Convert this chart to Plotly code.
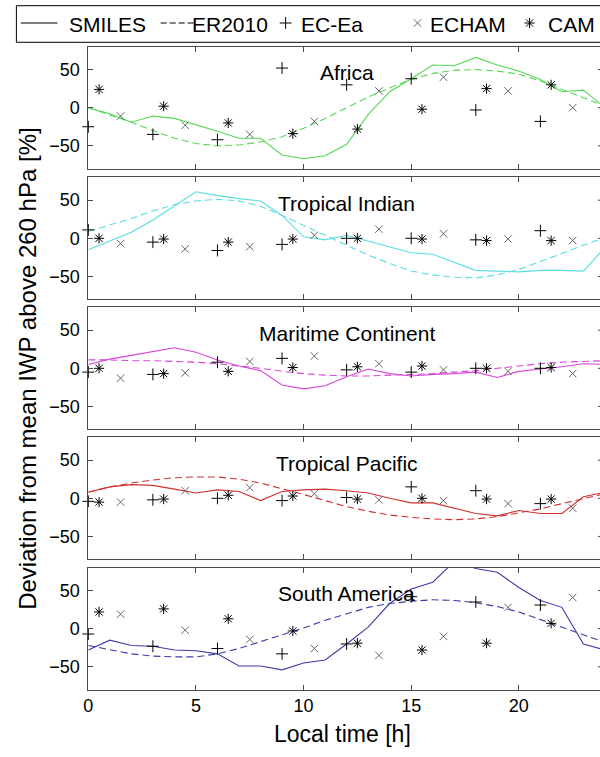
import plotly.graph_objects as go

# ---------------------------------------------------------------- data
hours = list(range(25))
ec_hours = [0, 3, 6, 9, 12, 15, 18, 21]
echam_hours = [1.5, 4.5, 7.5, 10.5, 13.5, 16.5, 19.5, 22.5]
cam_hours = [0.5, 3.5, 6.5, 9.5, 12.5, 15.5, 18.5, 21.5]

regions = ["Africa", "Tropical Indian", "Maritime Continent",
           "Tropical Pacific", "South America"]
region_colors = ["#55d855", "#5adde2", "#d846d8", "#d03030", "#3c3ca8"]

smiles_africa = [0, -8, -19, -11, -14, -22, -31, -40, -40, -62, -67, -63, -48,
                 -9, 21, 38, 56, 55, 66, 56, 48, 37, 21, 23, 0]
er2010_africa = [0, -9, -19, -30, -40, -47, -50, -49, -45, -38, -27, -14, 0,
                 14, 26, 37, 45, 49, 50, 48, 44, 35, 24, 13, 2]
ecea_africa = [-25, -35, -42, 52, 30, 38, -3, -18]
echam_africa = [-11, -23, -35, -18, 22, 40, 22, 0]
cam_africa = [24, 2, -20, -34, -28, -2, 25, 30]

smiles_indian = [-15, -4, 8, 24, 42, 61, 56, 52, 49, 30, 2, -2, 4,
                 -4, -12, -19, -21, -32, -42, -43, -44, -42, -42, -43, -12]
er2010_indian = [9, 17, 26, 36, 44, 49, 51, 49, 42, 30, 17, 3, -10,
                 -22, -33, -43, -48, -51, -52, -48, -41, -31, -20, -9, 1]
ecea_indian = [11, -5, -16, -8, 0, 0, -2, 10]
echam_indian = [-7, -14, -11, 4, 12, 6, -1, -3]
cam_indian = [0, -1, -5, -1, 0, -1, -3, -3]

smiles_maritime = [5, 12, 17, 22, 27, 21, 11, 3, -3, -22, -27, -23, -11,
                   -1, -7, -10, -8, -7, -5, -12, -4, -1, 2, 6, 5]
er2010_maritime = [11, 11, 10, 10, 9, 8, 6, 3, 0, -4, -7, -9, -10,
                   -10, -9, -8, -7, -5, -3, 0, 3, 6, 8, 9, 10]
ecea_maritime = [-5, -8, 8, 13, -2, -5, 0, 0]
echam_maritime = [-13, -6, 9, 16, 6, -2, -4, -7]
cam_maritime = [0, -7, -4, 1, 2, 3, 0, 1]

smiles_pacific = [8, 15, 18, 17, 12, 7, 11, 9, -3, 9, 11, 12, 10,
                  7, 0, -6, -6, -13, -20, -23, -16, -20, -20, 2, 8]
er2010_pacific = [8, 15, 20, 24, 27, 28, 28, 25, 20, 13, 5, -3, -11,
                  -17, -22, -25, -27, -28, -27, -24, -19, -14, -7, 0, 6]
ecea_pacific = [-4, -2, 0, -3, 1, 15, 10, -7]
echam_pacific = [-5, 10, 14, 6, -2, -3, -7, -13]
cam_pacific = [-5, -1, 4, 3, -1, 0, -1, -1]

smiles_samerica = [-28, -15, -22, -23, -28, -29, -33, -49, -49, -54, -45, -41, -20,
                   2, 33, 52, 61, 88, 79, 74, 54, 37, 28, -20, -28]
er2010_samerica = [-22, -28, -33, -36, -37, -37, -33, -26, -17, -9, 1, 11, 20,
                   28, 33, 36, 38, 37, 34, 29, 22, 12, 3, -7, -18]
ecea_samerica = [-7, -23, -26, -33, -20, 42, 35, 31]
echam_samerica = [19, -2, -14, -26, -35, -10, 28, 41]
cam_samerica = [22, 26, 13, -3, -19, -28, -19, 7]

y_ticks = [-50, 0, 50]
x_ticks = [0, 5, 10, 15, 20]

panels = [
    (smiles_africa, er2010_africa, ecea_africa, echam_africa, cam_africa),
    (smiles_indian, er2010_indian, ecea_indian, echam_indian, cam_indian),
    (smiles_maritime, er2010_maritime, ecea_maritime, echam_maritime, cam_maritime),
    (smiles_pacific, er2010_pacific, ecea_pacific, echam_pacific, cam_pacific),
    (smiles_samerica, er2010_samerica, ecea_samerica, echam_samerica, cam_samerica),
]

# ---------------------------------------------------------------- layout
W, H = 600, 757
FONT = "Liberation Sans, Arial, Helvetica, sans-serif"
AXIS_COLOR = "#4a4a4a"
LEFT = 84                      # left edge of the axes (px)
X_MAX = 24 * (W - LEFT) / 521  # axes continue past the right page edge
panel_tops = [46.7, 177.3, 307.3, 437.3, 567.7]
PANEL_H = 122.0
DASH = "7px,4px"

MARK_EC = dict(symbol="cross-thin", size=8.5, color="black",
               line=dict(width=1, color="black"))
MARK_ECHAM = dict(symbol="x-thin", size=7.5, color="#666666",
                  line=dict(width=1, color="#666666"))
MARK_CAM = dict(symbol="asterisk", size=8.5, color="black",
                line=dict(width=1, color="black"))

fig = go.Figure()
layout = dict(
    width=W, height=H, autosize=False,
    margin=dict(l=0, r=0, t=0, b=0),
    paper_bgcolor="white", plot_bgcolor="rgba(0,0,0,0)",
    showlegend=False,
    font=dict(family=FONT, color="black"),
)
annotations = []
shapes = []

for i, (name, color, series) in enumerate(zip(regions, region_colors, panels)):
    k = i + 1
    xa = "x" if k == 1 else f"x{k}"
    ya = "y" if k == 1 else f"y{k}"
    sm, er, ec, eh, cm = series
    top = panel_tops[i]
    bottom = top + PANEL_H
    ydom = [1 - bottom / H, 1 - top / H]

    fig.add_trace(go.Scatter(x=hours, y=sm, mode="lines", xaxis=xa, yaxis=ya,
                             line=dict(color=color, width=1.1)))
    fig.add_trace(go.Scatter(x=hours, y=er, mode="lines", xaxis=xa, yaxis=ya,
                             line=dict(color=color, width=1.1, dash=DASH)))
    fig.add_trace(go.Scatter(x=ec_hours, y=ec, mode="markers", xaxis=xa, yaxis=ya,
                             marker=MARK_EC, cliponaxis=False))
    fig.add_trace(go.Scatter(x=echam_hours, y=eh, mode="markers", xaxis=xa, yaxis=ya,
                             marker=MARK_ECHAM, cliponaxis=False))
    fig.add_trace(go.Scatter(x=cam_hours, y=cm, mode="markers", xaxis=xa, yaxis=ya,
                             marker=MARK_CAM, cliponaxis=False))

    last = (k == len(regions))
    layout["xaxis" if k == 1 else f"xaxis{k}"] = dict(
        domain=[LEFT / W, 1], range=[0, X_MAX], anchor=ya,
        showline=True, linecolor=AXIS_COLOR, linewidth=1, mirror="ticks",
        ticks="inside", ticklen=5, tickcolor=AXIS_COLOR, tickwidth=1,
        tickvals=x_ticks, showticklabels=last,
        tickfont=dict(size=18, family=FONT, color="black"),
        showgrid=False, zeroline=False, fixedrange=True,
    )
    layout["yaxis" if k == 1 else f"yaxis{k}"] = dict(
        domain=ydom, range=[-80, 80], anchor=xa,
        showline=True, linecolor=AXIS_COLOR, linewidth=1,
        ticks="inside", ticklen=5, tickcolor=AXIS_COLOR, tickwidth=1,
        tickvals=y_ticks, ticklabelstandoff=4,
        tickfont=dict(size=18, family=FONT, color="black"),
        showgrid=False, zeroline=False, fixedrange=True,
    )
    # tick stubs of the right-hand axis, just at the page edge
    for v in y_ticks:
        shapes.append(dict(type="line", xref=xa, yref=ya,
                           x0=X_MAX - 0.1, x1=X_MAX, y0=v, y1=v,
                           line=dict(color=AXIS_COLOR, width=1)))
    annotations.append(dict(text=name, xref=xa, yref=ya, x=12, y=46,
                            showarrow=False, xanchor="center", yanchor="middle",
                            font=dict(size=21, family=FONT, color="black")))

# pixel-space overlay used for the legend box and the axis titles
layout["xaxis6"] = dict(domain=[0, 1], range=[0, W], visible=False,
                        fixedrange=True, anchor="y6")
layout["yaxis6"] = dict(domain=[0, 1], range=[H, 0], visible=False,
                        fixedrange=True, anchor="x6")

LEG_Y = 23
fig.add_trace(go.Scatter(x=[16, 53], y=[LEG_Y, LEG_Y], mode="lines",
                         xaxis="x6", yaxis="y6",
                         line=dict(color="black", width=1)))
fig.add_trace(go.Scatter(x=[157, 192], y=[LEG_Y, LEG_Y], mode="lines",
                         xaxis="x6", yaxis="y6",
                         line=dict(color="black", width=1, dash="6px,3px")))
fig.add_trace(go.Scatter(x=[283], y=[LEG_Y], mode="markers", xaxis="x6", yaxis="y6",
                         marker=MARK_EC, cliponaxis=False))
fig.add_trace(go.Scatter(x=[416], y=[LEG_Y], mode="markers", xaxis="x6", yaxis="y6",
                         marker=MARK_ECHAM, cliponaxis=False))
fig.add_trace(go.Scatter(x=[529], y=[LEG_Y], mode="markers", xaxis="x6", yaxis="y6",
                         marker=MARK_CAM, cliponaxis=False))

legend_labels = [("SMILES", 63), ("ER2010", 187), ("EC-Ea", 296),
                 ("ECHAM", 427), ("CAM", 546)]
for label, x0 in legend_labels:
    annotations.append(dict(text=label, xref="x6", yref="y6", x=x0, y=LEG_Y + 1,
                            showarrow=False, xanchor="left", yanchor="middle",
                            font=dict(size=21, family=FONT, color="black")))

shapes.append(dict(type="rect", xref="x6", yref="y6", x0=11.5, x1=640,
                   y0=5.7, y1=42.3, line=dict(color="black", width=1)))

annotations.append(dict(text="Local time [h]", xref="x6", yref="y6", x=340, y=734,
                        showarrow=False, xanchor="center", yanchor="middle",
                        font=dict(size=23, family=FONT, color="black")))
annotations.append(dict(text="Deviation from mean IWP above 260 hPa [%]",
                        xref="x6", yref="y6", x=22, y=369, textangle=-90,
                        showarrow=False, xanchor="center", yanchor="middle",
                        font=dict(size=24, family=FONT, color="black")))

layout["annotations"] = annotations
layout["shapes"] = shapes
fig.update_layout(**layout)

fig.write_html("out.html", config={"displayModeBar": False})
